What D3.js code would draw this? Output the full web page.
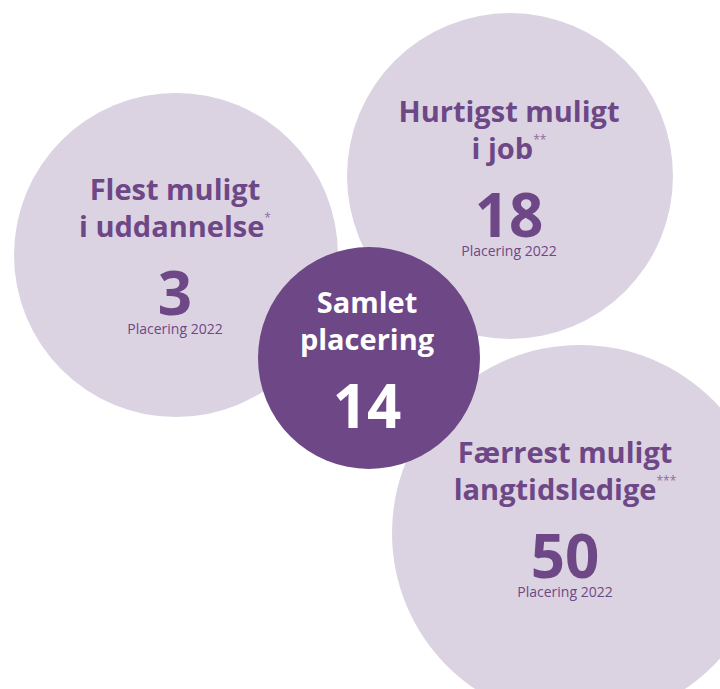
<!DOCTYPE html>
<html>
<head>
<meta charset="utf-8">
<script src="https://cdn.jsdelivr.net/npm/d3@7"></script>
<style>
  body { margin: 0; background: #fff; }
  text { font-family: "Open Sans", sans-serif; }
</style>
</head>
<body>
<div id="chart"></div>
<script>
(function(){

    // Data
    var categories = [["Flest muligt", "i uddannelse"],
                      ["Hurtigst muligt", "i job"],
                      ["Færrest muligt", "langtidsledige"]];
    var footnotes = ["*", "**", "***"];
    var ranks = [3, 18, 50];
    var subLabel = "Placering 2022";
    var totalLabel = ["Samlet", "placering"];
    var totalRank = 14;

    // Layout of the bubbles (pixels)
    var bubblePos = [
        {cx: 176, cy: 255, r: 162, tx: 175, ty: 200},
        {cx: 510, cy: 176, r: 163, tx: 509, ty: 122},
        {cx: 580, cy: 533, r: 188, tx: 565, ty: 463}
    ];
    var centerPos = {cx: 369, cy: 358, r: 111, tx: 367, ty: 313};

    var width = 720;
    var height = 689;
    var dark = "#6e4786";
    var light = "#dcd3e2";

    var svg = d3.select("#chart").append("svg")
        .attr("width", width)
        .attr("height", height);

    var data = categories.map(function(c, i){
        return {lines: c, note: footnotes[i], rank: ranks[i], pos: bubblePos[i]};
    });

    var bubbles = svg.append("g").selectAll("g")
        .data(data).enter().append("g");

    bubbles.append("circle")
        .attr("cx", function(d){ return d.pos.cx; })
        .attr("cy", function(d){ return d.pos.cy; })
        .attr("r", function(d){ return d.pos.r; })
        .style("fill", light);

    // two line heading, footnote marker as superscript
    var head = bubbles.append("text")
        .attr("text-anchor", "middle")
        .attr("fill", dark)
        .attr("font-weight", "bold")
        .attr("font-size", "29px");
    head.append("tspan")
        .attr("x", function(d){ return d.pos.tx; })
        .attr("y", function(d){ return d.pos.ty; })
        .text(function(d){ return d.lines[0]; });
    head.append("tspan")
        .attr("x", function(d){ return d.pos.tx; })
        .attr("y", function(d){ return d.pos.ty + 37; })
        .text(function(d){ return d.lines[1]; });
    head.append("tspan")
        .attr("dy", -15)
        .attr("font-size", "12px")
        .attr("font-weight", "normal")
        .attr("fill", "#8a6e9c")
        .text(function(d){ return d.note; });

    bubbles.append("text")
        .attr("text-anchor", "middle")
        .attr("x", function(d){ return d.pos.tx; })
        .attr("y", function(d){ return d.pos.ty + 115; })
        .attr("fill", dark)
        .attr("font-weight", "bold")
        .attr("font-size", "60px")
        .text(function(d){ return d.rank; });

    bubbles.append("text")
        .attr("text-anchor", "middle")
        .attr("x", function(d){ return d.pos.tx; })
        .attr("y", function(d){ return d.pos.ty + 134; })
        .attr("fill", dark)
        .attr("font-size", "14px")
        .text(subLabel);

    // Overall ranking
    var total = svg.append("g");
    total.append("circle")
        .attr("cx", centerPos.cx)
        .attr("cy", centerPos.cy)
        .attr("r", centerPos.r)
        .style("fill", dark);

    total.append("g").selectAll("text")
        .data(totalLabel).enter().append("text")
        .attr("text-anchor", "middle")
        .attr("x", centerPos.tx)
        .attr("y", function(d, i){ return centerPos.ty + i * 37; })
        .attr("fill", "#fff")
        .attr("font-weight", "bold")
        .attr("font-size", "29px")
        .text(function(d){ return d; });

    total.append("text")
        .attr("text-anchor", "middle")
        .attr("x", centerPos.tx)
        .attr("y", centerPos.ty + 115)
        .attr("fill", "#fff")
        .attr("font-weight", "bold")
        .attr("font-size", "60px")
        .text(totalRank);

})();
</script>
</body>
</html>
